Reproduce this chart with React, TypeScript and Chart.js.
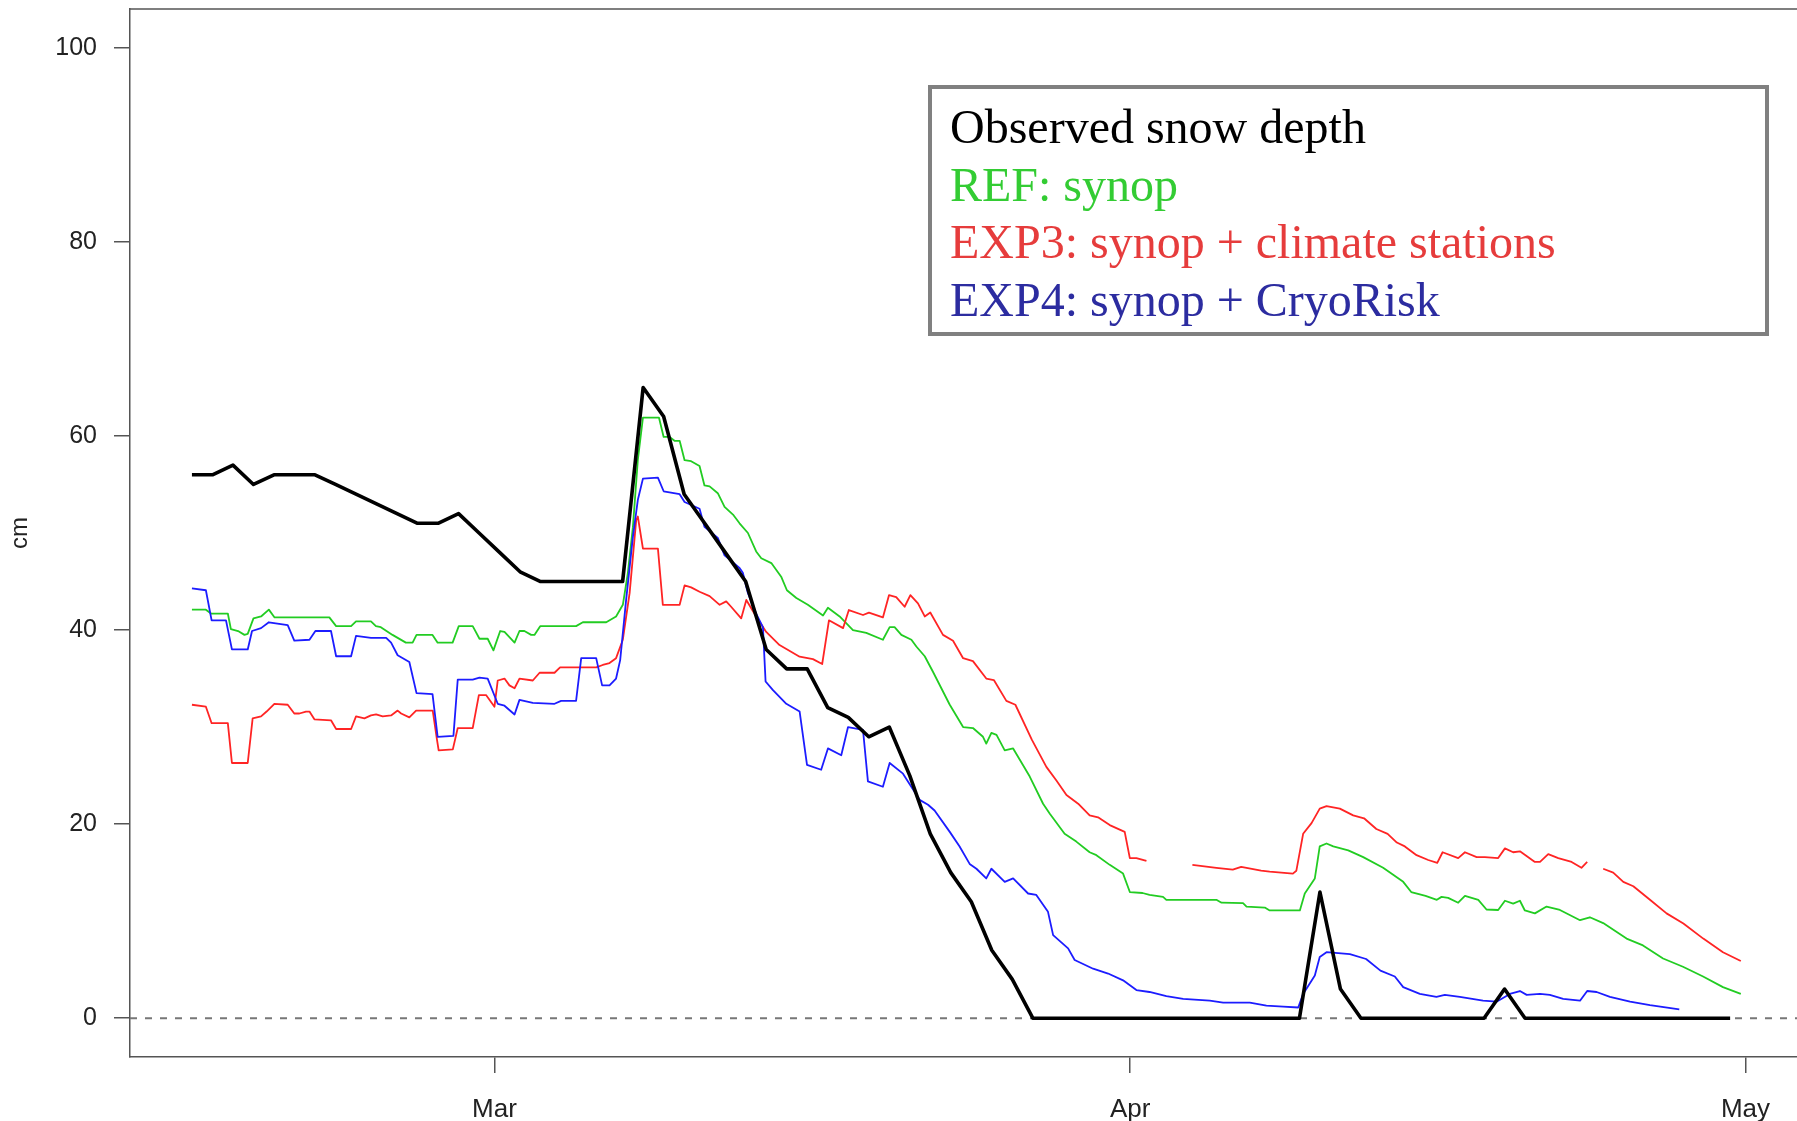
import { useEffect, useRef } from "react";
import { Chart, registerables } from "chart.js";

Chart.register(...registerables);

// Time axis: days relative to 1 March (00 UTC). Month ticks at 1 Mar, 1 Apr, 1 May.
const monthTickDays = [0, 31, 61];
const monthTickLabels = ["Mar", "Apr", "May"];
const depthTicks = [0, 20, 40, 60, 80, 100];

// Observed snow depth (cm), one reading per day at 06 UTC, 14 Feb .. 30 Apr
const obsFirstDay = -15;
const obsReadingHour = 0.25;
const observedDepth = [
  56, 56, 57, 55, 56, 56, 56, 55, 54, 53,
  52, 51, 51, 52, 50, 48, 46, 45, 45, 45,
  45, 45, 65, 62, 54, 51, 48, 45, 38, 36,
  36, 32, 31, 29, 30, 25, 19, 15, 12, 7,
  4, 0, 0, 0, 0, 0, 0, 0, 0, 0,
  0, 0, 0, 0, 0, 13, 3, 0, 0, 0,
  0, 0, 0, 0, 3, 0, 0, 0, 0, 0,
  0, 0, 0, 0, 0, 0,
];

// REF: synop  [day, cm]
const refSynop: [number, number][] = [
  [-14.75, 42.1], [-14.07, 42.1], [-13.82, 41.7], [-13.0, 41.7], [-12.85, 40.1], [-12.5, 39.9],
  [-12.19, 39.5], [-12.03, 39.6], [-11.75, 41.2], [-11.38, 41.4], [-11.0, 42.1], [-10.72, 41.3],
  [-8.05, 41.3], [-7.72, 40.4], [-6.99, 40.4], [-6.75, 40.9], [-6.02, 40.9], [-5.78, 40.4],
  [-5.54, 40.3], [-4.97, 39.5], [-4.32, 38.7], [-3.99, 38.7], [-3.8, 39.5], [-3.02, 39.5],
  [-2.77, 38.7], [-2.04, 38.7], [-1.74, 40.4], [-1.06, 40.4], [-0.73, 39.1], [-0.33, 39.1],
  [-0.05, 37.9], [0.28, 39.9], [0.49, 39.8], [0.98, 38.7], [1.22, 39.9], [1.46, 39.9],
  [1.79, 39.5], [1.95, 39.5], [2.23, 40.4], [3.98, 40.4], [4.31, 40.8], [5.45, 40.8],
  [5.93, 41.4], [6.26, 42.6], [6.5, 45.8], [6.75, 50.6], [6.99, 57.5], [7.24, 61.9],
  [8.02, 61.9], [8.25, 59.9], [8.54, 59.9], [8.78, 59.5], [9.03, 59.5], [9.27, 57.5],
  [9.59, 57.4], [10.0, 56.9], [10.24, 54.9], [10.49, 54.8], [10.89, 54.1], [11.22, 52.7],
  [11.63, 51.9], [11.95, 51.0], [12.36, 50.0], [12.76, 48.1], [13.01, 47.4], [13.5, 46.9],
  [13.98, 45.5], [14.26, 44.1], [14.72, 43.3], [15.28, 42.6], [16.02, 41.5], [16.26, 42.3],
  [16.83, 41.4], [17.48, 40.0], [18.13, 39.7], [18.94, 39.0], [19.27, 40.3], [19.51, 40.3],
  [19.84, 39.5], [20.33, 39.0], [20.57, 38.3], [20.98, 37.3], [21.38, 35.7], [22.2, 32.3],
  [22.85, 30.0], [23.33, 29.9], [23.82, 29.0], [23.98, 28.3], [24.23, 29.4], [24.48, 29.2],
  [24.88, 27.6], [25.29, 27.8], [26.1, 24.9], [26.75, 22.1], [27.07, 21.1], [27.8, 19.0],
  [28.37, 18.2], [29.02, 17.1], [29.35, 16.8], [30.0, 15.8], [30.65, 14.9], [30.98, 13.0],
  [31.6, 12.9], [31.94, 12.7], [32.6, 12.5], [32.76, 12.2], [35.2, 12.2], [35.45, 11.9],
  [36.5, 11.85], [36.67, 11.5], [37.56, 11.4], [37.8, 11.1], [39.27, 11.1], [39.51, 12.85],
  [40.0, 14.4], [40.24, 17.7], [40.57, 18.0], [40.9, 17.7], [41.63, 17.3], [42.36, 16.6],
  [43.33, 15.5], [44.31, 14.05], [44.7, 13.0], [45.4, 12.6], [45.95, 12.2], [46.18, 12.5],
  [46.5, 12.4], [46.99, 11.9], [47.32, 12.6], [47.97, 12.2], [48.37, 11.2], [48.94, 11.15],
  [49.27, 12.1], [49.67, 11.8], [50.0, 12.1], [50.24, 11.1], [50.73, 10.8], [51.3, 11.5],
  [51.95, 11.15], [52.93, 10.1], [53.41, 10.4], [54.06, 9.8], [55.2, 8.2], [56.0, 7.5],
  [56.98, 6.15], [57.95, 5.3], [58.93, 4.3], [59.9, 3.2], [60.77, 2.5],
];

// EXP3: synop + climate stations  [day, cm]  (null = missing analysis)
const exp3Climate: [number, number | null][] = [
  [-14.75, 32.3], [-14.07, 32.1], [-13.79, 30.4], [-13.0, 30.4], [-12.8, 26.3], [-12.03, 26.3],
  [-11.79, 30.9], [-11.38, 31.1], [-11.11, 31.6], [-10.73, 32.4], [-10.08, 32.3], [-9.76, 31.4],
  [-9.51, 31.4], [-9.19, 31.6], [-9.02, 31.6], [-8.78, 30.8], [-7.97, 30.7], [-7.72, 29.8],
  [-6.99, 29.8], [-6.75, 31.1], [-6.34, 30.9], [-6.02, 31.2], [-5.77, 31.3], [-5.45, 31.1],
  [-5.04, 31.2], [-4.72, 31.7], [-4.55, 31.4], [-4.15, 31.0], [-3.82, 31.7], [-3.01, 31.7],
  [-2.81, 28.8], [-2.72, 27.6], [-2.03, 27.7], [-1.79, 29.9], [-1.06, 29.9], [-0.76, 33.3],
  [-0.41, 33.3], [0.0, 32.1], [0.16, 34.8], [0.49, 35.0], [0.73, 34.3], [0.98, 34.0],
  [1.22, 35.0], [1.87, 34.8], [2.2, 35.6], [2.93, 35.6], [3.2, 36.15], [4.96, 36.15],
  [5.28, 36.4], [5.61, 36.6], [5.93, 37.1], [6.26, 39.0], [6.59, 43.8], [6.91, 51.3],
  [6.99, 51.7], [7.24, 48.4], [7.97, 48.4], [8.21, 42.6], [9.03, 42.6], [9.27, 44.6],
  [9.59, 44.4], [10.0, 43.95], [10.49, 43.5], [10.98, 42.6], [11.3, 42.95], [11.54, 42.4],
  [12.03, 41.2], [12.28, 43.1], [12.76, 41.4], [13.25, 39.8], [13.9, 38.45], [14.88, 37.25],
  [15.53, 37.0], [15.98, 36.5], [16.31, 41.0], [17.0, 40.2], [17.28, 42.06], [17.97, 41.55],
  [18.26, 41.8], [18.94, 41.3], [19.24, 43.6], [19.59, 43.4], [20.0, 42.4], [20.28, 43.6],
  [20.65, 42.75], [20.98, 41.4], [21.25, 41.8], [21.87, 39.5], [22.36, 38.9], [22.85, 37.1],
  [23.33, 36.8], [23.98, 35.0], [24.35, 34.85], [24.96, 32.7], [25.4, 32.3], [26.2, 28.7],
  [26.91, 25.9], [27.4, 24.5], [27.89, 23.0], [28.46, 22.1], [29.02, 20.9], [29.43, 20.7],
  [30.0, 19.9], [30.73, 19.2], [30.98, 16.5], [31.3, 16.5], [31.79, 16.2], [32.9, null],
  [34.03, 15.8], [35.2, 15.5], [36.0, 15.3], [36.41, 15.6], [37.38, 15.2], [37.8, 15.1],
  [38.93, 14.9], [39.1, 15.2], [39.43, 19.0], [39.84, 20.1], [40.24, 21.6], [40.57, 21.85],
  [41.22, 21.6], [41.87, 20.9], [42.4, 20.6], [43.0, 19.5], [43.55, 19.0], [44.0, 18.1],
  [44.39, 17.7], [44.96, 16.8], [45.53, 16.3], [45.97, 16.0], [46.23, 17.1], [46.99, 16.5],
  [47.32, 17.1], [47.89, 16.6], [48.29, 16.6], [48.94, 16.5], [49.27, 17.5], [49.67, 17.1],
  [50.0, 17.2], [50.73, 16.1], [50.98, 16.1], [51.38, 16.9], [51.87, 16.5], [52.52, 16.1],
  [53.0, 15.5], [53.28, 16.1], [53.67, null], [54.06, 15.4], [54.55, 15.0], [55.04, 14.05],
  [55.53, 13.6], [56.34, 12.2], [57.15, 10.8], [57.97, 9.76], [58.94, 8.2], [59.9, 6.8],
  [60.77, 5.9],
];

// EXP4: synop + CryoRisk  [day, cm]
const exp4CryoRisk: [number, number][] = [
  [-14.75, 44.3], [-14.07, 44.1], [-13.79, 41.0], [-13.09, 41.0], [-12.8, 38.0], [-12.03, 38.0],
  [-11.82, 39.9], [-11.38, 40.2], [-11.0, 40.8], [-10.08, 40.5], [-9.76, 38.9], [-9.02, 39.0],
  [-8.73, 39.9], [-7.97, 39.9], [-7.72, 37.3], [-6.99, 37.3], [-6.75, 39.4], [-6.02, 39.2],
  [-5.28, 39.2], [-5.04, 38.7], [-4.72, 37.4], [-4.15, 36.7], [-3.8, 33.5], [-3.02, 33.4],
  [-2.77, 29.0], [-2.0, 29.1], [-1.79, 34.9], [-1.06, 34.9], [-0.73, 35.1], [-0.33, 35.0],
  [0.16, 32.4], [0.49, 32.2], [0.98, 31.3], [1.22, 32.8], [1.87, 32.5], [2.93, 32.4],
  [3.25, 32.7], [3.98, 32.7], [4.23, 37.1], [4.96, 37.1], [5.25, 34.3], [5.61, 34.3],
  [5.93, 35.0], [6.13, 36.9], [6.42, 43.1], [6.75, 49.6], [6.99, 53.4], [7.24, 55.6],
  [7.97, 55.7], [8.25, 54.3], [9.03, 54.0], [9.27, 53.2], [10.0, 52.5], [10.24, 50.65],
  [10.89, 49.5], [11.22, 47.7], [11.95, 46.4], [12.11, 45.9], [12.36, 43.8], [12.76, 41.7],
  [13.09, 40.3], [13.22, 34.7], [13.58, 33.8], [14.23, 32.4], [14.88, 31.6], [15.24, 26.1],
  [15.93, 25.6], [16.26, 27.8], [16.91, 27.1], [17.24, 30.0], [17.97, 29.7], [18.21, 24.4],
  [18.94, 23.85], [19.27, 26.3], [19.92, 25.2], [20.73, 22.5], [21.14, 22.0], [21.46, 21.4],
  [22.2, 19.2], [22.68, 17.7], [23.17, 15.9], [23.5, 15.4], [23.98, 14.4], [24.23, 15.4],
  [24.88, 14.05], [25.29, 14.4], [26.02, 12.85], [26.42, 12.7], [26.99, 10.96], [27.24, 8.56],
  [27.97, 7.2], [28.29, 6.0], [29.19, 5.1], [29.92, 4.6], [30.65, 3.9], [31.3, 2.9],
  [31.94, 2.7], [32.76, 2.27], [33.58, 2.0], [34.88, 1.8], [35.53, 1.6], [36.83, 1.6],
  [37.64, 1.3], [38.46, 1.2], [39.19, 1.1], [39.43, 2.5], [40.0, 4.4], [40.24, 6.3],
  [40.57, 6.8], [41.71, 6.6], [42.5, 6.1], [43.2, 4.9], [43.9, 4.3], [44.31, 3.2],
  [45.12, 2.5], [45.93, 2.2], [46.34, 2.4], [47.07, 2.2], [48.2, 1.8], [48.86, 1.7],
  [49.51, 2.5], [50.0, 2.8], [50.33, 2.4], [50.98, 2.5], [51.46, 2.4], [52.11, 2.0],
  [52.93, 1.8], [53.28, 2.8], [53.74, 2.7], [54.39, 2.2], [55.37, 1.7], [56.34, 1.34],
  [57.77, 0.9],
];

const seriesLabels = [
  "Observed snow depth",
  "REF: synop",
  "EXP3: synop + climate stations",
  "EXP4: synop + CryoRisk",
];
const lineColors = ["#000000", "#22cc22", "#ff2424", "#1c1cff"];
const legendTextColors = ["#000000", "#33cc33", "#e63c3c", "#2c2ca0"];

const X_MIN = -17.77;
const X_MAX = 63.51;
const Y_MIN = -4;
const Y_MAX = 104;

const SANS = '"Liberation Sans", Arial, Helvetica, sans-serif';
const SERIF = '"Liberation Serif", "Times New Roman", Times, serif';
const AXIS_COLOR = "#555555";
const TEXT_COLOR = "#222222";

const toPoints = (pairs: [number, number | null][]) =>
  pairs.map(([x, y]) => ({ x, y }));

// Box around the plot (R style: the top edge closes the frame)
const frameTopPlugin = {
  id: "frameTop",
  beforeDatasetsDraw(chart: any) {
    const { ctx, chartArea } = chart;
    ctx.save();
    ctx.strokeStyle = AXIS_COLOR;
    ctx.lineWidth = 1.5;
    ctx.beginPath();
    ctx.moveTo(chartArea.left, chartArea.top);
    ctx.lineTo(chartArea.right, chartArea.top);
    ctx.stroke();
    ctx.restore();
  },
};

// Text-only legend inside a grey box
const legendBoxPlugin = {
  id: "legendBox",
  afterDraw(chart: any) {
    const { ctx } = chart;
    ctx.save();
    ctx.fillStyle = "#ffffff";
    ctx.fillRect(930, 87, 837, 247);
    ctx.strokeStyle = "#808080";
    ctx.lineWidth = 4;
    ctx.strokeRect(930, 87, 837, 247);
    ctx.font = `48px ${SERIF}`;
    ctx.textAlign = "left";
    ctx.textBaseline = "alphabetic";
    seriesLabels.forEach((label, i) => {
      ctx.fillStyle = legendTextColors[i];
      ctx.fillText(label, 950, 143 + i * 57.5);
    });
    ctx.restore();
  },
};

export default function App() {
  const canvasRef = useRef<HTMLCanvasElement | null>(null);

  useEffect(() => {
    document.body.style.margin = "0";
    const canvas = canvasRef.current;
    if (!canvas) return;

    const observedPoints = observedDepth.map((v, i) => ({
      x: obsFirstDay + i + obsReadingHour,
      y: v,
    }));

    const chart = new Chart(canvas, {
      type: "line",
      data: {
        datasets: [
          {
            label: seriesLabels[0],
            data: observedPoints,
            borderColor: lineColors[0],
            borderWidth: 3.6,
            order: 0,
          },
          {
            label: seriesLabels[3],
            data: toPoints(exp4CryoRisk),
            borderColor: lineColors[3],
            borderWidth: 1.8,
            order: 1,
          },
          {
            label: seriesLabels[2],
            data: toPoints(exp3Climate),
            borderColor: lineColors[2],
            borderWidth: 1.8,
            spanGaps: false,
            order: 2,
          },
          {
            label: seriesLabels[1],
            data: toPoints(refSynop),
            borderColor: lineColors[1],
            borderWidth: 1.8,
            order: 3,
          },
          {
            label: "zero",
            data: [
              { x: X_MIN, y: 0 },
              { x: X_MAX, y: 0 },
            ],
            borderColor: "#777777",
            borderWidth: 2,
            borderDash: [7, 8],
            order: 4,
          },
        ],
      },
      options: {
        responsive: false,
        maintainAspectRatio: false,
        devicePixelRatio: 1,
        animation: false,
        events: [],
        layout: { padding: { top: 9, left: 0, right: 0, bottom: 0 } },
        elements: {
          point: { radius: 0, hoverRadius: 0 },
          line: {
            tension: 0,
            fill: false,
            borderJoinStyle: "round",
            borderCapStyle: "butt",
          },
        },
        plugins: {
          legend: { display: false },
          tooltip: { enabled: false },
          title: { display: false },
        },
        scales: {
          x: {
            type: "linear",
            min: X_MIN,
            max: X_MAX,
            afterBuildTicks: (scale: any) => {
              scale.ticks = monthTickDays.map((v) => ({ value: v }));
            },
            afterFit: (scale: any) => {
              scale.height = 64;
              scale.paddingLeft = 0;
              scale.paddingRight = 0;
            },
            ticks: {
              autoSkip: false,
              maxRotation: 0,
              minRotation: 0,
              padding: 21,
              color: TEXT_COLOR,
              font: { family: SANS, size: 26 },
              callback: (value: any) => {
                const idx = monthTickDays.indexOf(Number(value));
                return idx >= 0 ? monthTickLabels[idx] : "";
              },
            },
            grid: {
              drawOnChartArea: false,
              drawTicks: true,
              tickLength: 16,
              color: AXIS_COLOR,
              lineWidth: 1.5,
            },
            border: { display: true, color: AXIS_COLOR, width: 1.5 },
          },
          y: {
            type: "linear",
            min: Y_MIN,
            max: Y_MAX,
            afterBuildTicks: (scale: any) => {
              scale.ticks = depthTicks.map((v) => ({ value: v }));
            },
            afterFit: (scale: any) => {
              scale.width = 130;
              scale.paddingTop = 0;
              scale.paddingBottom = 0;
            },
            ticks: {
              padding: 17,
              color: TEXT_COLOR,
              font: { family: SANS, size: 25 },
              callback: (value: any) => String(value),
            },
            grid: {
              drawOnChartArea: false,
              drawTicks: true,
              tickLength: 16,
              color: AXIS_COLOR,
              lineWidth: 1.5,
            },
            border: { display: true, color: AXIS_COLOR, width: 1.5 },
            title: {
              display: true,
              text: "cm",
              color: TEXT_COLOR,
              font: { family: SANS, size: 24 },
              padding: { top: 6, bottom: 0 },
            },
          },
        },
      },
      plugins: [frameTopPlugin, legendBoxPlugin],
    } as any);

    return () => chart.destroy();
  }, []);

  return (
    <div style={{ position: "fixed", left: 0, top: 0, width: 1797, height: 1121, background: "#ffffff" }}>
      <canvas ref={canvasRef} width={1797} height={1121} style={{ display: "block" }} />
    </div>
  );
}
